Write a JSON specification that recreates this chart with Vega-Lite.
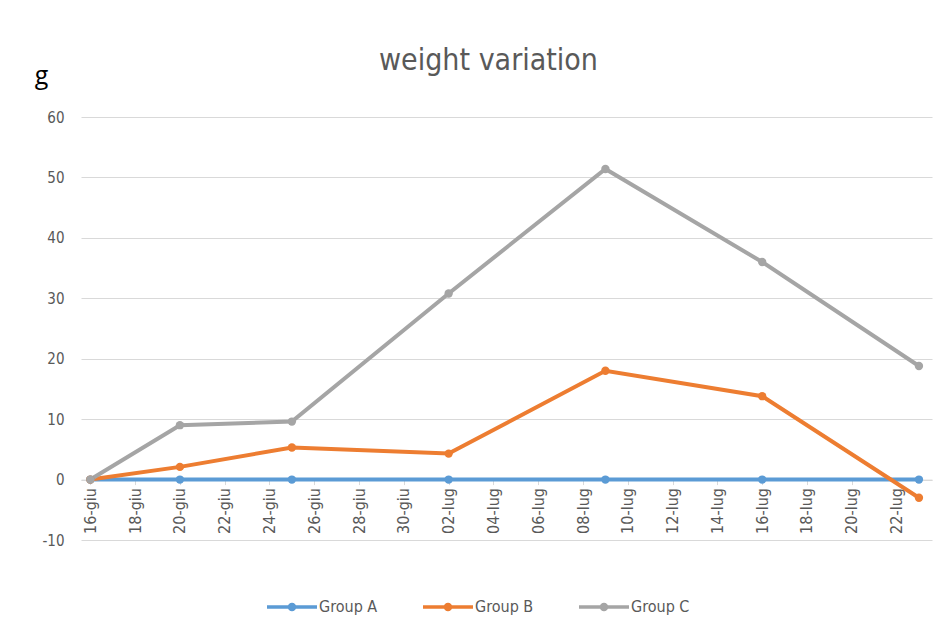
{
  "$schema": "https://vega.github.io/schema/vega-lite/v6.json",
  "autosize": {"type": "none"},
  "width": 851,
  "height": 423,
  "padding": {"left": 81, "top": 117, "right": 14, "bottom": 96},
  "background": "white",
  "title": {
    "text": "weight variation",
    "anchor": "middle",
    "frame": "group",
    "dx": -18,
    "offset": -13,
    "fontSize": 30,
    "font": "DejaVu Sans Condensed, Open Sans",
    "fontWeight": "normal",
    "color": "#595959"
  },
  "config": {
    "view": {"stroke": null}
  },
  "data": {
    "values": [
      {"date": "2023-06-16", "group": "Group A", "value": 0},
      {"date": "2023-06-20", "group": "Group A", "value": 0},
      {"date": "2023-06-25", "group": "Group A", "value": 0},
      {"date": "2023-07-02", "group": "Group A", "value": 0},
      {"date": "2023-07-09", "group": "Group A", "value": 0},
      {"date": "2023-07-16", "group": "Group A", "value": 0},
      {"date": "2023-07-23", "group": "Group A", "value": 0},
      {"date": "2023-06-16", "group": "Group B", "value": 0},
      {"date": "2023-06-20", "group": "Group B", "value": 2.1},
      {"date": "2023-06-25", "group": "Group B", "value": 5.3},
      {"date": "2023-07-02", "group": "Group B", "value": 4.3},
      {"date": "2023-07-09", "group": "Group B", "value": 18},
      {"date": "2023-07-16", "group": "Group B", "value": 13.8},
      {"date": "2023-07-23", "group": "Group B", "value": -3},
      {"date": "2023-06-16", "group": "Group C", "value": 0},
      {"date": "2023-06-20", "group": "Group C", "value": 9},
      {"date": "2023-06-25", "group": "Group C", "value": 9.6},
      {"date": "2023-07-02", "group": "Group C", "value": 30.8},
      {"date": "2023-07-09", "group": "Group C", "value": 51.4},
      {"date": "2023-07-16", "group": "Group C", "value": 36},
      {"date": "2023-07-23", "group": "Group C", "value": 18.8}
    ]
  },
  "encoding": {
    "x": {
      "field": "date",
      "type": "temporal",
      "scale": {
        "type": "utc",
        "domain": [
          {"year": 2023, "month": 6, "date": 15, "hours": 14, "utc": true},
          {"year": 2023, "month": 7, "date": 23, "hours": 14, "utc": true}
        ]
      },
      "axis": {
        "title": null,
        "labelExpr": "utcFormat(datum.value, '%d') + '-' + (utcmonth(datum.value) == 5 ? 'giu' : 'lug')",
        "values": [
          {"year": 2023, "month": 6, "date": 16, "utc": true},
          {"year": 2023, "month": 6, "date": 18, "utc": true},
          {"year": 2023, "month": 6, "date": 20, "utc": true},
          {"year": 2023, "month": 6, "date": 22, "utc": true},
          {"year": 2023, "month": 6, "date": 24, "utc": true},
          {"year": 2023, "month": 6, "date": 26, "utc": true},
          {"year": 2023, "month": 6, "date": 28, "utc": true},
          {"year": 2023, "month": 6, "date": 30, "utc": true},
          {"year": 2023, "month": 7, "date": 2, "utc": true},
          {"year": 2023, "month": 7, "date": 4, "utc": true},
          {"year": 2023, "month": 7, "date": 6, "utc": true},
          {"year": 2023, "month": 7, "date": 8, "utc": true},
          {"year": 2023, "month": 7, "date": 10, "utc": true},
          {"year": 2023, "month": 7, "date": 12, "utc": true},
          {"year": 2023, "month": 7, "date": 14, "utc": true},
          {"year": 2023, "month": 7, "date": 16, "utc": true},
          {"year": 2023, "month": 7, "date": 18, "utc": true},
          {"year": 2023, "month": 7, "date": 20, "utc": true},
          {"year": 2023, "month": 7, "date": 22, "utc": true}
        ],
        "labelAngle": -90,
        "labelAlign": "right",
        "labelBaseline": "middle",
        "labelFont": "DejaVu Sans Condensed, Open Sans",
        "labelFontSize": 16,
        "labelColor": "#595959",
        "labelPadding": 3,
        "labelOverlap": false,
        "labelFlush": false,
        "offset": -60.4,
        "domainColor": "#d9d9d9",
        "tickColor": "#d9d9d9",
        "tickSize": 5,
        "grid": false
      }
    },
    "y": {
      "field": "value",
      "type": "quantitative",
      "scale": {"domain": [-10, 60], "nice": false, "zero": false},
      "axis": {
        "values": [-10, 0, 10, 20, 30, 40, 50, 60],
        "labelExpr": "toString(datum.value)",
        "title": "g",
        "titleAngle": 0,
        "titleX": -40,
        "titleY": -42,
        "titleAlign": "center",
        "titleBaseline": "middle",
        "titleFont": "Open Sans",
        "titleFontSize": 25,
        "titleFontWeight": 500,
        "titleColor": "#000000",
        "labelFont": "DejaVu Sans Condensed, Open Sans",
        "labelFontSize": 15,
        "labelColor": "#595959",
        "labelPadding": 17,
        "ticks": false,
        "domain": false,
        "grid": true,
        "gridColor": "#d9d9d9",
        "gridWidth": 1
      }
    },
    "color": {
      "field": "group",
      "type": "nominal",
      "scale": {
        "domain": ["Group A", "Group B", "Group C"],
        "range": ["#5B9BD5", "#ED7D31", "#A5A5A5"]
      },
      "legend": {
        "title": null,
        "orient": "none",
        "direction": "horizontal",
        "legendX": 186,
        "legendY": 465,
        "symbolType": "M-1,-0.07H1V0.07H-1Z M0.17,0A0.17,0.17 0 1,1 -0.17,0A0.17,0.17 0 1,1 0.17,0Z",
        "symbolSize": 2500,
        "symbolStrokeWidth": 0,
        "labelFont": "DejaVu Sans Condensed, Open Sans",
        "labelFontSize": 16,
        "labelColor": "#595959",
        "labelOffset": 2,
        "columnPadding": 45
      }
    }
  },
  "layer": [
    {"mark": {"type": "line", "strokeWidth": 4}},
    {"mark": {"type": "point", "filled": true, "size": 70, "opacity": 1}}
  ]
}
